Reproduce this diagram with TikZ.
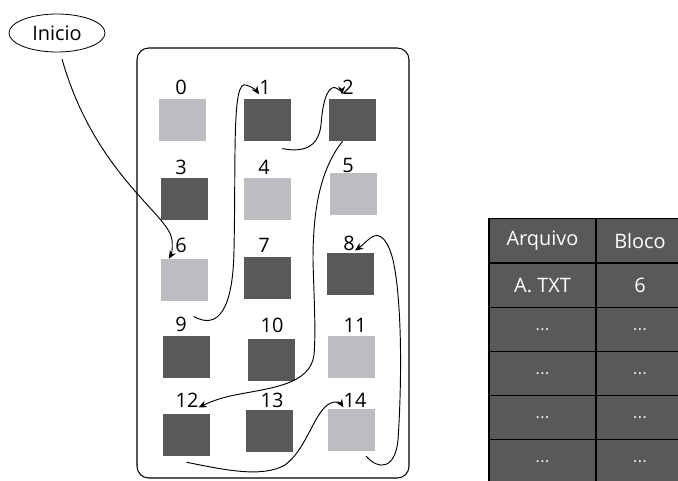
\documentclass[tikz,border=0pt]{standalone}
\usepackage{fontspec}
\setmainfont{Open Sans}
\usetikzlibrary{arrows.meta,shapes.geometric}

\definecolor{blkdark}{RGB}{88,89,91}
\definecolor{blklight}{RGB}{188,189,192}

\tikzset{
  busy/.style={fill=blkdark,minimum width=1.41cm,minimum height=1.26cm,inner sep=0pt},
  free/.style={fill=blklight,minimum width=1.41cm,minimum height=1.26cm,inner sep=0pt},
  num/.style={inner sep=0pt,font=\fontsize{17}{20}\selectfont},
  cell/.style={draw=black,line width=1pt,fill=blkdark,text=white,minimum height=1.33cm,font=\fontsize{17}{20}\selectfont},
  dots/.style={text=white!80!blkdark,font=\fontsize{15}{18}\selectfont},
  link/.style={line width=0.8pt,-{Stealth[length=7pt,width=6pt]}}
}

\begin{document}
\begin{tikzpicture}[x=0.03cm,y=-0.03cm]
\clip (0,0) rectangle (678,480);
\node [draw,ellipse,line width=0.7pt,minimum width=2.88cm,minimum height=1.14cm,font=\fontsize{17}{20}\selectfont] (ini) at (57,33) {Inicio};
\draw [line width=0.9pt,rounded corners=10pt] (137,48) rectangle (409,478);

\node [free] (b0)  at (182.5,120) {};
\node [busy] (b1)  at (267.5,120) {};
\node [busy] (b2)  at (352.5,120) {};
\node [busy] (b3)  at (184.5,199) {};
\node [free] (b4)  at (267.5,199) {};
\node [free] (b5)  at (353.5,194) {};
\node [free] (b6)  at (184.5,280) {};
\node [busy] (b7)  at (267.5,278) {};
\node [busy] (b8)  at (350.5,274) {};
\node [busy] (b9)  at (186.5,357) {};
\node [busy] (b10) at (271.5,360) {};
\node [free] (b11) at (351.5,357) {};
\node [busy] (b12) at (186.5,435) {};
\node [busy] (b13) at (269.5,431) {};
\node [free] (b14) at (351.5,430) {};

\node [num] (l0)  at (181,87) {0};
\node [num] (l1)  at (265,87) {1};
\node [num] (l2)  at (348,87) {2};
\node [num] (l3)  at (181,167) {3};
\node [num] (l4)  at (264,167) {4};
\node [num] (l5)  at (348,165) {5};
\node [num] (l6)  at (181,245) {6};
\node [num] (l7)  at (264,245) {7};
\node [num] (l8)  at (349,243) {8};
\node [num] (l9)  at (181,324) {9};
\node [num] (l10) at (272,325) {10};
\node [num] (l11) at (355,325) {11};
\node [num] (l12) at (187,400) {12};
\node [num] (l13) at (272,400) {13};
\node [num] (l14) at (355,400) {14};

\coordinate (s0)  at ([xshift=0.15cm,yshift=-0.2cm]ini.south);
\coordinate (s9)  at ([xshift=0.2cm]l9.north east);
\coordinate (s1)  at ([xshift=-0.27cm,yshift=-0.22cm]b1.south east);
\coordinate (s2)  at ([xshift=-0.3cm]b2.south);
\coordinate (s12) at ([yshift=-0.18cm]b12.south);
\coordinate (s14) at ([xshift=-0.27cm,yshift=-0.15cm]b14.south east);

\draw [link] (s0) .. controls (95,175) and (170,215) .. (172,240) .. controls (173,250) and (171,255) .. ([xshift=0.24cm]b6.north west);
\draw [link] (s9) .. controls (218,330) and (233,310) .. (234,250) .. controls (236,150) and (232,80) .. (246,85) .. controls (252,87) and (256,90) .. (l1.south west);
\draw [link] (s1) .. controls (300,152) and (318,150) .. (321,125) .. controls (323,95) and (330,85) .. (336,88) .. controls (340,90) and (342,93) .. (l2.south west);
\draw [link] (s2) .. controls (320,170) and (313,210) .. (313,260) .. controls (314,300) and (316,330) .. (314,355) .. controls (310,385) and (270,388) .. (235,395) .. controls (220,398) and (210,402) .. (l12.south east);
\draw [link] (s12) .. controls (225,470) and (262,478) .. (285,465) .. controls (305,450) and (312,420) .. (325,407) .. controls (332,400) and (340,402) .. (l14.south west);
\draw [link] (s14) .. controls (378,470) and (395,470) .. (398,440) .. controls (402,380) and (402,300) .. (393,260) .. controls (388,240) and (380,232) .. (372,237) .. controls (367,240) and (363,245) .. (l8.south east);

% tabela de arquivos
\node [cell,minimum width=3.21cm] (h1) at (542.5,241) {Arquivo};
\node [cell,minimum width=2.64cm] (h2) at (640,241) {Bloco};
\node [cell,minimum width=3.21cm] (a1) at (542.5,285.2) {A. TXT};
\node [cell,minimum width=2.64cm] (c1) at (640,285.2) {6};
\node [cell,dots,minimum width=3.21cm] (a2) at (542.5,329.4) {...};
\node [cell,dots,minimum width=2.64cm] (c2) at (640,329.4) {...};
\node [cell,dots,minimum width=3.21cm] (a3) at (542.5,373.6) {...};
\node [cell,dots,minimum width=2.64cm] (c3) at (640,373.6) {...};
\node [cell,dots,minimum width=3.21cm] (a4) at (542.5,417.8) {...};
\node [cell,dots,minimum width=2.64cm] (c4) at (640,417.8) {...};
\node [cell,dots,minimum width=3.21cm] (a5) at (542.5,462) {...};
\node [cell,dots,minimum width=2.64cm] (c5) at (640,462) {...};
\end{tikzpicture}
\end{document}
